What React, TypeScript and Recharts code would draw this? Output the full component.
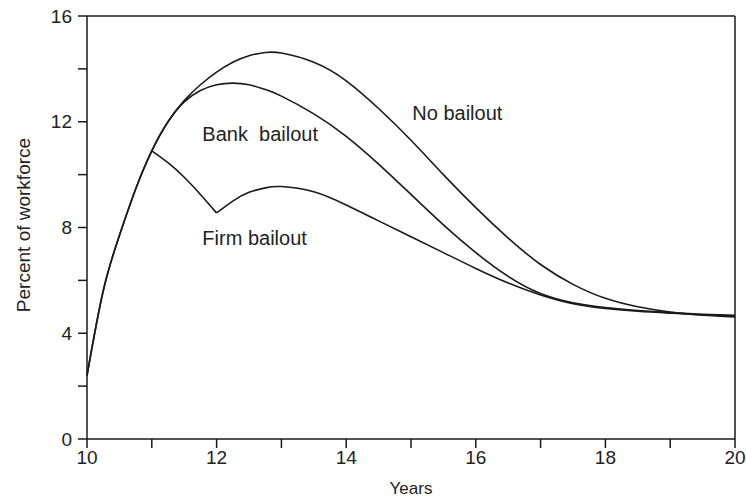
import { LineChart, Line, XAxis, YAxis, ReferenceLine, ReferenceDot } from 'recharts';

const years = [10, 10.25, 10.5, 10.75, 11, 11.25, 11.5, 11.75, 12, 12.25, 12.5, 12.75, 13, 13.5, 14, 14.5, 15, 15.5, 16, 16.5, 17, 17.5, 18, 18.5, 19, 19.5, 20];

const noBailout = [2.4, 5.6, 7.7, 9.45, 10.9, 12.0, 12.8, 13.4, 13.88, 14.25, 14.5, 14.62, 14.6, 14.25, 13.55, 12.5, 11.3, 10.0, 8.75, 7.6, 6.6, 5.85, 5.32, 5.0, 4.8, 4.68, 4.62];

const bankBailout = [2.4, 5.6, 7.7, 9.45, 10.9, 12.0, 12.75, 13.18, 13.4, 13.46, 13.4, 13.22, 12.97, 12.3, 11.45, 10.4, 9.25, 8.1, 7.05, 6.15, 5.5, 5.15, 4.97, 4.86, 4.78, 4.72, 4.68];

// firm bailout path splits at the kink (year 12) so each piece stays smooth
const firmBefore = [null, null, null, null, 10.9, 10.45, 9.9, 9.25, 8.55, null, null, null, null, null, null, null, null, null, null, null, null, null, null, null, null, null, null];
const firmAfter = [null, null, null, null, null, null, null, null, 8.55, 9.0, 9.33, 9.5, 9.55, 9.35, 8.85, 8.25, 7.65, 7.05, 6.45, 5.9, 5.45, 5.12, 4.94, 4.83, 4.76, 4.7, 4.65];

const xTicks = [10, 11, 12, 13, 14, 15, 16, 17, 18, 19, 20];
const yTicks = [0, 2, 4, 6, 8, 10, 12, 14, 16];

const notes = [
  { text: 'No bailout', year: 15.02, value: 12.35 },
  { text: 'Bank\u00A0\u00A0bailout', year: 11.78, value: 11.55 },
  { text: 'Firm bailout', year: 11.78, value: 7.6 },
];

const data = years.map((year, i) => ({
  year,
  noBailout: noBailout[i],
  bankBailout: bankBailout[i],
  firmBefore: firmBefore[i],
  firmAfter: firmAfter[i],
}));

const font = '"Liberation Sans", Arial, sans-serif';
const ink = '#1a1a1a';

const YTitle = (props: any) => {
  const { viewBox } = props;
  const cx = viewBox.x + 23;
  const cy = 225;
  return (
    <text x={cx} y={cy} transform={`rotate(-90 ${cx} ${cy})`} textAnchor="middle" dominantBaseline="central" fontSize={19} fill="#222" fontFamily={font}>
      Percent of workforce
    </text>
  );
};

export default function App() {
  return (
    <div style={{ position: 'absolute', left: 0, top: 0, background: '#fff' }}>
      <LineChart width={746} height={499} data={data} margin={{ top: 16, right: 11, left: 0, bottom: 0 }}>
        <XAxis
          dataKey="year"
          type="number"
          domain={[10, 20]}
          ticks={xTicks}
          tickFormatter={(v: number) => (v % 2 === 0 ? String(v) : '')}
          stroke={ink}
          strokeWidth={1.5}
          tickSize={9}
          tickMargin={3}
          height={60}
          tick={{ fill: '#222', fontSize: 19, fontFamily: font }}
          label={{ value: 'Years', position: 'insideBottom', offset: 5, fontSize: 17, fill: '#222', fontFamily: font }}
        />
        <YAxis
          type="number"
          domain={[0, 16]}
          ticks={yTicks}
          tickFormatter={(v: number) => (v % 4 === 0 ? String(v) : '')}
          stroke={ink}
          strokeWidth={1.5}
          tickSize={9}
          tickMargin={6}
          width={87}
          tick={{ fill: '#222', fontSize: 19, fontFamily: font }}
          label={<YTitle />}
        />
        <ReferenceLine y={16} stroke={ink} strokeWidth={1.5} />
        <ReferenceLine x={20} stroke={ink} strokeWidth={1.5} />
        <Line type="natural" dataKey="noBailout" stroke={ink} strokeWidth={1.6} dot={false} isAnimationActive={false} />
        <Line type="natural" dataKey="bankBailout" stroke={ink} strokeWidth={1.6} dot={false} isAnimationActive={false} />
        <Line type="natural" dataKey="firmBefore" stroke={ink} strokeWidth={1.6} dot={false} isAnimationActive={false} />
        <Line type="natural" dataKey="firmAfter" stroke={ink} strokeWidth={1.6} dot={false} isAnimationActive={false} />
        {notes.map((n) => (
          <ReferenceDot
            key={n.text}
            x={n.year}
            y={n.value}
            r={0}
            fill="none"
            stroke="none"
            label={{ value: n.text, position: 'right', offset: 0, fontSize: 20, fill: '#222', fontFamily: font }}
          />
        ))}
      </LineChart>
    </div>
  );
}
